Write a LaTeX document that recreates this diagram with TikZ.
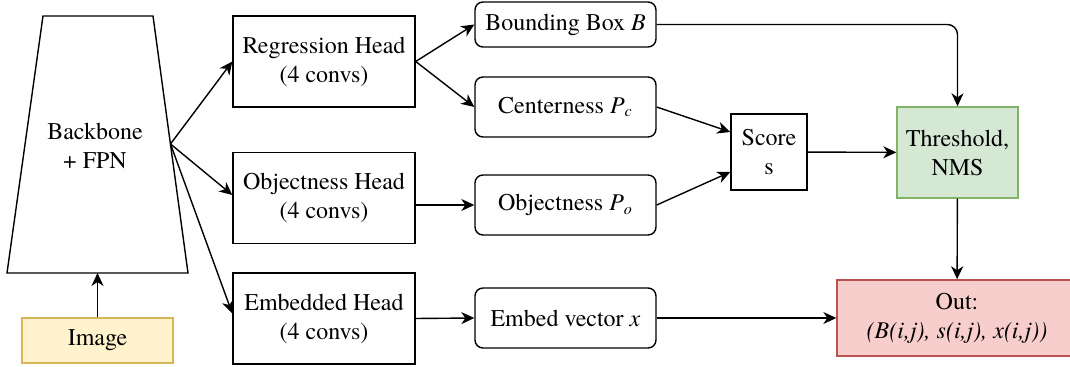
\documentclass[tikz,border=0pt]{standalone}
\usepackage{fontspec}
\setmainfont{texgyretermes}[Extension=.otf,UprightFont=*-regular,ItalicFont=*-italic,BoldFont=*-bold]
\usepackage{tikz}
\usetikzlibrary{arrows.meta}
\usepackage{xcolor}
\definecolor{imgfill}{HTML}{FFF2CC}
\definecolor{imgdraw}{HTML}{D6B656}
\definecolor{nmsfill}{HTML}{D5E8D4}
\definecolor{nmsdraw}{HTML}{82B366}
\definecolor{outfill}{HTML}{F8CECC}
\definecolor{outdraw}{HTML}{B85450}
\newlength\headw
\newlength\headh
\setlength{\headw}{91pt}
\setlength{\headh}{45.5pt}

\begin{document}
\begin{tikzpicture}[x=0.5pt,y=-0.5pt,line width=0.7pt,
    font=\fontsize{12}{14.5}\selectfont,
    >={Stealth[length=6.5pt,width=6pt,inset=2pt]},
    head/.style={draw,minimum width=\headw,minimum height=\headh,align=center,inner sep=1pt},
    result/.style={draw,rounded corners=4pt,minimum width=90.5pt,align=center,inner sep=1pt}]
    \useasboundingbox (0,0) rectangle (1070,367);
    % backbone and input
    \draw (43,16) -- (153,16) -- (188,273) -- (7,273) -- cycle;
    \node[align=center,inner sep=1pt] (backbone) at (95,146) {Backbone\\+ FPN};
    \coordinate (fpnout) at (170.5,144);
    \coordinate (fpnin) at (97.5,273);
    \node[draw=imgdraw,fill=imgfill,minimum width=75.5pt,minimum height=22.5pt] (image) at (97.5,340.5) {Image};
    % heads
    \node[head] (reghead) at (324,61.5) {Regression Head\\(4 convs)};
    \node[head] (objhead) at (324,198) {Objectness Head\\(4 convs)};
    \node[head] (embhead) at (324,318.5) {Embedded Head\\(4 convs)};
    % head outputs
    \node[result,minimum height=22.5pt] (bbox) at (565.5,24.5) {Bounding Box \textit{B}};
    \node[result,minimum height=30pt] (center) at (565.5,107) {Centerness \textit{P\textsubscript{c}}};
    \node[result,minimum height=30pt] (objout) at (565.5,205) {Objectness \textit{P\textsubscript{o}}};
    \node[result,minimum height=30pt] (embed) at (565.5,318) {Embed vector \textit{x}};
    \node[draw,minimum width=38pt,minimum height=38pt,align=center,inner sep=1pt] (score) at (769,152) {Score\\s};
    \node[draw=nmsdraw,fill=nmsfill,minimum width=60.5pt,minimum height=45.5pt,align=center,inner sep=1pt] (nms) at (957.5,152.5) {Threshold,\\NMS};
    \node[draw=outdraw,fill=outfill,minimum width=120pt,minimum height=38pt,align=center,inner sep=1pt] (out) at (957,318) {Out:\\\textit{(B(i,j), s(i,j), x(i,j))}};
    % connectors
    \draw[->] (image) -- (fpnin);
    \draw[->] (fpnout) -- (reghead.west);
    \draw[->] (fpnout) -- ([yshift=1.5pt]objhead.west);
    \draw[->] (fpnout) -- ([yshift=2.5pt]embhead.west);
    \draw[->] (reghead.east) -- (bbox.west);
    \draw[->] (reghead.east) -- (center.west);
    \draw[->] (objout.west -| objhead.east) -- (objout.west);
    \draw[->] (embhead.east) -- (embed.west);
    \draw[->] (center.east) -- ([yshift=10pt]score.west);
    \draw[->] (objout.east) -- ([yshift=-10pt]score.west);
    \draw[->] (score) -- (nms);
    \draw[->,rounded corners=5pt] (bbox.east) -| (nms.north);
    \draw[->] (nms) -- (out);
    \draw[->] (embed) -- (out);
\end{tikzpicture}
\end{document}
